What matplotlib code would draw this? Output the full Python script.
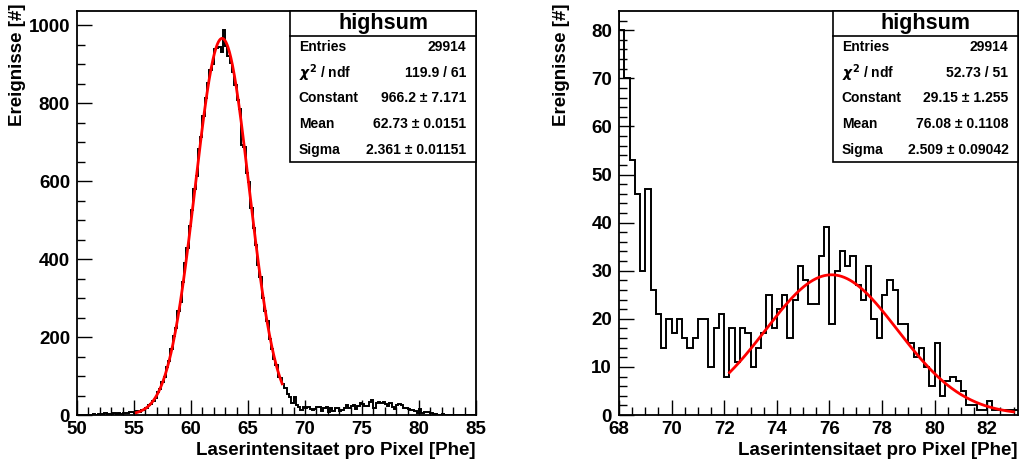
import numpy as np
import matplotlib.pyplot as plt

plt.rcParams['font.family'] = ['Liberation Sans', 'DejaVu Sans']
plt.rcParams['font.weight'] = 'bold'

# highsum histogram, 0.2 Phe bins from 50 to 85
edges = np.round(np.arange(50.0, 85.0001, 0.2), 1)
counts = np.array([
    # 50.0 - 55.0
    0, 0, 0, 1, 0, 1, 0, 2, 1, 2, 3, 2, 4, 2, 3, 2, 4, 3, 5, 3, 4, 6, 5, 7, 8,
    # 55.0 - 60.0
    6, 9, 8, 12, 14, 18, 25, 28, 36, 44, 58, 66, 85, 97, 124, 138, 170, 203, 222, 268,
    290, 341, 389, 428, 484,
    # 60.0 - 65.0
    527, 580, 612, 683, 712, 768, 812, 852, 884, 901, 938, 941, 944, 932, 987,
    946, 922, 903, 880, 846, 809, 786, 692, 687, 622,
    # 65.0 - 70.0
    598, 530, 480, 437, 385, 355, 300, 268, 240, 196, 170, 143, 127, 98, 94,
    80, 70, 53, 46, 30, 47, 26, 21, 14, 20,
    # 70.0 - 75.0
    17, 20, 16, 14, 16, 20, 20, 10, 18, 21, 8, 18, 11, 18, 17, 10, 14, 17, 25, 18,
    22, 25, 16, 24, 31,
    # 75.0 - 80.0
    28, 23, 23, 33, 39, 19, 30, 34, 31, 33, 27, 24, 31, 20, 16, 25, 28, 26, 19, 19,
    15, 12, 14, 10, 6,
    # 80.0 - 85.0
    15, 4, 7, 8, 7, 5, 2, 2, 1, 1, 3, 1, 1, 1, 1, 1, 0, 1, 0, 0, 0, 0, 0, 0, 0,
])

# gaus fit results shown in the stat boxes
fit_left = dict(const=966.2, mean=62.73, sigma=2.361, lo=55.2, hi=68.0)
fit_right = dict(const=29.15, mean=76.08, sigma=2.509, lo=72.2, hi=83.0)

stats_left = [("Entries", "29914"), (r"$\chi^{2}$ / ndf", "119.9 / 61"),
              ("Constant", "966.2 \u00b1 7.171"), ("Mean", "62.73 \u00b1 0.0151"),
              ("Sigma", "2.361 \u00b1 0.01151")]
stats_right = [("Entries", "29914"), (r"$\chi^{2}$ / ndf", "52.73 / 51"),
               ("Constant", "29.15 \u00b1 1.255"), ("Mean", "76.08 \u00b1 0.1108"),
               ("Sigma", "2.509 \u00b1 0.09042")]


def gaus(x, f):
    return f['const'] * np.exp(-0.5 * ((x - f['mean']) / f['sigma']) ** 2)


def stat_box(ax, rows, x0):
    ax.add_patch(plt.Rectangle((x0, 0.626), 1.0 - x0, 0.374, transform=ax.transAxes,
                               fill=True, facecolor='white', edgecolor='black',
                               lw=1.2, zorder=5, clip_on=False))
    ax.plot([x0, 1.0], [0.938, 0.938], transform=ax.transAxes, color='black',
            lw=1.2, zorder=6, clip_on=False)
    ax.text((x0 + 1.0) / 2, 0.968, "highsum", transform=ax.transAxes, ha='center',
            va='center', fontsize=15.5, fontweight='bold', zorder=7)
    ys = [0.911, 0.847, 0.785, 0.720, 0.656]
    for (name, val), y in zip(rows, ys):
        ax.text(x0 + 0.022, y, name, transform=ax.transAxes, ha='left', va='center',
                fontsize=10, fontweight='bold', zorder=7)
        ax.text(0.976, y, val, transform=ax.transAxes, ha='right', va='center',
                fontsize=10, fontweight='bold', zorder=7)


fig = plt.figure(figsize=(10.2, 4.59), dpi=100)
ax1 = fig.add_axes([77 / 1020, 44 / 459, 399 / 1020, 404 / 459])
ax2 = fig.add_axes([619 / 1020, 44 / 459, 399 / 1020, 404 / 459])

panels = [
    (ax1, (50, 85), (0, 987 * 1.05), fit_left, stats_left, 0.534, 5, 1, 200, 50),
    (ax2, (68, 83.17), (0, 84), fit_right, stats_right, 0.536, 2, 0.5, 10, 2),
]
for ax, xl, yl, fit, stats, bx, xmaj, xmin, ymaj, ymin in panels:
    ax.stairs(counts, edges, color='black', lw=1.4, zorder=2)
    xf = np.linspace(fit['lo'], fit['hi'], 300)
    ax.plot(xf, gaus(xf, fit), color='#ff0000', lw=2, zorder=3)
    ax.set_xlim(*xl)
    ax.set_ylim(*yl)
    ax.set_xticks(np.arange(xl[0], xl[1] + 0.01, xmaj))
    ax.set_xticks(np.arange(xl[0], xl[1] + 0.01, xmin), minor=True)
    ax.set_yticks(np.arange(0, yl[1], ymaj))
    ax.set_yticks(np.arange(0, yl[1], ymin), minor=True)
    ax.tick_params(which='both', direction='in', labelsize=13.5, top=False, right=False)
    ax.tick_params(which='major', length=11, width=1)
    ax.tick_params(which='minor', length=5.5, width=1)
    ax.tick_params(axis='x', pad=4)
    ax.tick_params(axis='y', pad=5)
    for lab in ax.get_xticklabels() + ax.get_yticklabels():
        lab.set_fontweight('bold')
    for sp in ax.spines.values():
        sp.set_linewidth(1.3)
    stat_box(ax, stats, bx)

for xr, ylab_x in [(476, 18), (1018, 561)]:
    fig.text(xr / 1020, 1 - 455 / 459, "Laserintensitaet pro Pixel [Phe]", ha='right',
             va='baseline', fontsize=13.5, fontweight='bold')
    fig.text(ylab_x / 1020, 1 - 4 / 459, "Ereignisse [#]", rotation=90, ha='center',
             va='top', fontsize=13.5, fontweight='bold')

fig.savefig("out.png", dpi=100)
